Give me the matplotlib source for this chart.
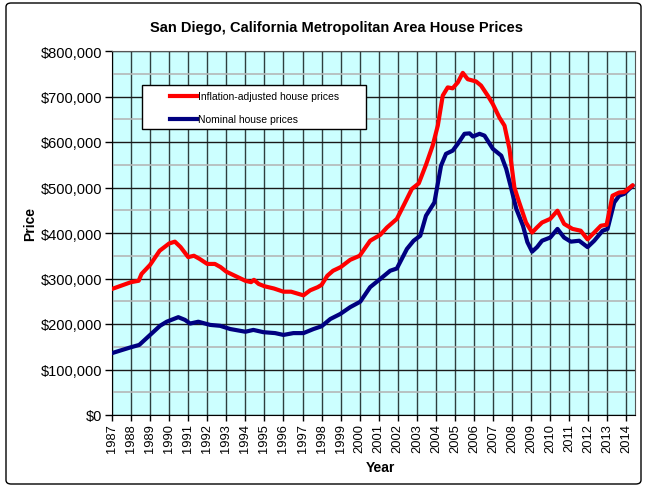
import matplotlib
matplotlib.use("Agg")
import matplotlib.pyplot as plt
from matplotlib.patches import FancyBboxPatch, Rectangle
from matplotlib.lines import Line2D
from matplotlib.ticker import FuncFormatter, MultipleLocator

# Data (year, price in $)
real_years = [1987.0, 1988.0, 1988.4, 1988.55, 1989.0, 1989.5, 1990.0, 1990.3, 1990.6, 1991.0,
              1991.3, 1991.6, 1992.0, 1992.4, 1992.7, 1993.0, 1993.5, 1994.0, 1994.3, 1994.45,
              1994.7, 1995.0, 1995.5, 1996.0, 1996.4, 1996.8, 1997.05, 1997.4, 1997.8, 1998.0,
              1998.3, 1998.6, 1999.0, 1999.5, 2000.0, 2000.55, 2001.08, 2001.43, 2001.95, 2002.3,
              2002.74, 2003.1, 2003.48, 2003.83, 2004.1, 2004.36, 2004.62, 2004.88, 2005.15, 2005.41,
              2005.67, 2006.11, 2006.37, 2006.72, 2006.98, 2007.33, 2007.6, 2007.86, 2008.12, 2008.35,
              2008.73, 2009.05, 2009.3, 2009.57, 2010.0, 2010.38, 2010.73, 2011.17, 2011.6, 2011.96,
              2012.31, 2012.66, 2012.96, 2013.27, 2013.62, 2013.88, 2014.33]
real_prices = [277, 292, 295, 310, 330, 361, 377, 381, 369, 347,
               350, 343, 332, 332, 325, 315, 305, 295, 292, 297,
               288, 283, 278, 271, 271, 266, 263, 274, 281, 286,
               306, 317, 325, 341, 350, 383, 396, 412, 431, 460,
               497, 509, 550, 592, 636, 702, 720, 718, 731, 752,
               738, 733, 724, 702, 684, 654, 636, 585, 500, 470,
               423, 401, 412, 423, 431, 449, 420, 409, 405, 386,
               401, 416, 418, 482, 489, 490, 505]
real_prices = [v * 1000 for v in real_prices]

nom_years = [1987.0, 1988.0, 1988.43, 1989.0, 1989.52, 1989.87, 1990.48, 1990.83, 1991.1, 1991.53,
             1992.15, 1992.68, 1993.2, 1994.0, 1994.42, 1994.95, 1995.56, 1996.0, 1996.52, 1997.05,
             1997.58, 1998.0, 1998.46, 1998.98, 1999.5, 2000.03, 2000.55, 2001.08, 2001.6, 2001.95,
             2002.48, 2002.83, 2003.18, 2003.48, 2003.92, 2004.27, 2004.53, 2004.88, 2005.15, 2005.5,
             2005.77, 2005.94, 2006.29, 2006.55, 2006.99, 2007.43, 2007.69, 2007.96, 2008.22, 2008.57,
             2008.8, 2009.05, 2009.31, 2009.57, 2010.0, 2010.38, 2010.73, 2011.08, 2011.52, 2011.96,
             2012.31, 2012.75, 2013.01, 2013.36, 2013.62, 2013.88, 2014.33]
nom_prices = [136, 149, 154, 176, 196, 205, 215, 209, 201, 205,
              198, 196, 189, 183, 187, 182, 180, 176, 180, 180,
              189, 195, 211, 222, 237, 249, 281, 299, 317, 322,
              365, 383, 394, 438, 467, 548, 574, 581, 596, 618,
              619, 612, 618, 614, 585, 570, 541, 497, 453, 416,
              380, 359, 369, 383, 390, 409, 390, 381, 383, 369,
              383, 405, 409, 467, 482, 486, 504]
nom_prices = [v * 1000 for v in nom_prices]

year_ticks = list(range(1987, 2015))
series_labels = ['Inflation-adjusted house prices', 'Nominal house prices']
series_colors = ['#FF0000', '#000080']

W, H = 647, 489
fig = plt.figure(figsize=(W / 100, H / 100), dpi=100)
plt.rcParams['font.family'] = ['Liberation Sans', 'DejaVu Sans']

L, R, T, B = 112, 635, 52, 416
ax = fig.add_axes([L / W, 1 - B / H, (R - L) / W, (B - T) / H])
ax.set_facecolor('#CCFFFF')

ax.set_xlim(1987, 2014.45)
ax.set_ylim(0, 800000)
ax.set_xticks(year_ticks)
ax.set_xticklabels([str(y) for y in year_ticks], rotation=90, fontsize=9.3)
ax.yaxis.set_major_locator(MultipleLocator(100000))
ax.yaxis.set_minor_locator(MultipleLocator(50000))
ax.yaxis.set_major_formatter(FuncFormatter(lambda v, p: "$0" if v == 0 else "${:,.0f}".format(v)))
ax.tick_params(axis='y', which='major', labelsize=10.5, length=5, width=1, direction='out', pad=2)
ax.tick_params(axis='y', which='minor', length=0)
ax.tick_params(axis='x', which='major', length=4, width=1, direction='out', pad=2)

ax.grid(True, axis='x', which='major', color='#2f3f3f', linewidth=1.0)
ax.grid(True, axis='y', which='major', color='#1a1a1a', linewidth=1.0)
ax.grid(True, axis='y', which='minor', color='#b4b8b8', linewidth=1.2)
ax.set_axisbelow(True)

for s in ['top', 'right']:
    ax.spines[s].set_color('#555555')
ax.spines['left'].set_color('black')
ax.spines['bottom'].set_color('black')

ax.plot(nom_years, nom_prices, color=series_colors[1], linewidth=3.0, solid_joinstyle='round',
        solid_capstyle='round', zorder=3)
ax.plot(real_years, real_prices, color=series_colors[0], linewidth=3.0, solid_joinstyle='round',
        solid_capstyle='round', zorder=4)

# Manual legend box (Excel style)
def fx(px):
    return (px - L) / (R - L)

def fy(py):
    return (B - py) / (B - T)

ax.add_patch(Rectangle((fx(142), fy(130)), fx(366) - fx(142), fy(86) - fy(130),
                       transform=ax.transAxes, facecolor='white', edgecolor='black',
                       linewidth=1.0, zorder=10))
for lab, col, py in zip(series_labels, series_colors, [97, 120]):
    ax.add_line(Line2D([fx(170), fx(197)], [fy(py), fy(py)], transform=ax.transAxes,
                       color=col, linewidth=3.0, zorder=11))
    ax.text(fx(198), fy(py), lab, transform=ax.transAxes, ha='left', va='center',
            fontsize=7.5, zorder=11)

fig.text(336 / W, 1 - 28 / H, 'San Diego, California Metropolitan Area House Prices',
         ha='center', va='center', fontsize=10.5, fontweight='bold')
fig.text(30 / W, 1 - 224 / H, 'Price', ha='center', va='center', rotation=90,
         fontsize=10, fontweight='bold')
fig.text(380 / W, 1 - 468 / H, 'Year', ha='center', va='center', fontsize=10, fontweight='bold')

border = FancyBboxPatch((6 / W, 4 / H), (641 - 6) / W, (485 - 4) / H,
                        boxstyle='round,pad=0,rounding_size=0.008', transform=fig.transFigure,
                        facecolor='none', edgecolor='black', linewidth=1.0)
fig.patches.append(border)

fig.savefig('out.png', dpi=100)
